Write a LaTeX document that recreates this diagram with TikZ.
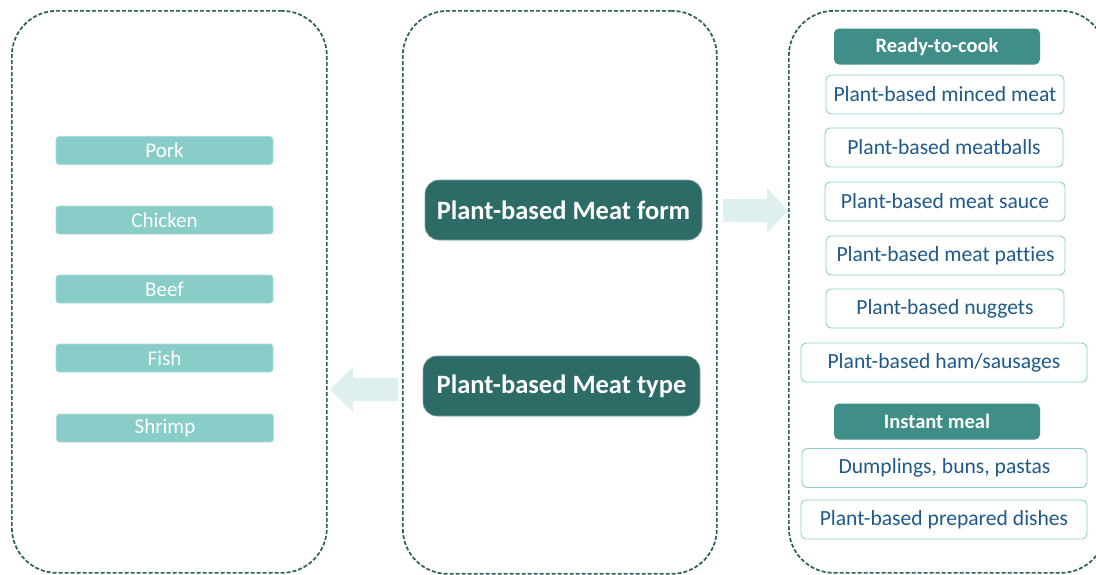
\documentclass[tikz,border=0pt]{standalone}
\usepackage{fontspec}
\setmainfont{Carlito}[Ligatures=NoCommon]
\definecolor{panelline}{HTML}{2D5F5C}
\definecolor{typefill}{HTML}{89CDC9}
\definecolor{darkbox}{HTML}{2D6B67}
\definecolor{headfill}{HTML}{3F8E88}
\definecolor{itemline}{HTML}{8CCFCA}
\definecolor{itemtext}{HTML}{1F5A8A}
\definecolor{arrowfill}{HTML}{DDF0EF}
\tikzset{
  panel/.style={draw=panelline, line width=1.7pt, dash pattern=on 4pt off 2pt,
    rounded corners=45pt, anchor=north west, inner sep=0pt},
  typebox/.style={fill=typefill, draw=typefill!70!white, line width=0.6pt, rounded corners=3pt,
    minimum width=217pt, minimum height=28pt, inner sep=0pt,
    text=white, font=\fontsize{21}{24}\selectfont},
  mainbox/.style={fill=darkbox, draw=darkbox!60!white, line width=0.6pt, rounded corners=14pt,
    minimum width=277pt, minimum height=60pt, inner sep=0pt,
    text=white, font=\fontsize{26.5}{30}\selectfont\bfseries},
  headbox/.style={fill=headfill, rounded corners=5pt,
    minimum width=206pt, minimum height=36pt, inner sep=0pt,
    text=white, font=\fontsize{20.5}{24}\selectfont\bfseries},
  itembox/.style={fill=white, draw=itemline, line width=0.9pt, rounded corners=5pt,
    minimum height=39pt, inner sep=0pt,
    text=itemtext, font=\fontsize{21.6}{25}\selectfont},
}
\begin{document}
\begin{tikzpicture}[x=1pt, y=-1pt]
\clip (0,0) rectangle (1096,574);
\fill[white] (0,0) rectangle (1096,574);

% dashed panels
\node[panel, minimum width=315pt, minimum height=562pt] (leftpanel) at (11,10) {};
\node[panel, minimum width=314pt, minimum height=563pt] (midpanel) at (402,10) {};
\node[panel, minimum width=317pt, minimum height=562pt] (rightpanel) at (788,10) {};

% meat types
\node[typebox] (pork)    at (164.5,150.5) {Pork};
\node[typebox] (chicken) at (164.5,220)   {Chicken};
\node[typebox] (beef)    at (164.5,289)   {Beef};
\node[typebox] (fish)    at (164.5,358)   {Fish};
\node[typebox] (shrimp)  at (165,428)     {Shrimp};

% central boxes
\node[mainbox] (form) at (563.5,210) {Plant-based Meat form};
\node[mainbox] (type) at (561.5,386) {Plant-based Meat type};

% block arrows
\fill[arrowfill] (723,199) -- (767,199) -- (767,188) -- (788,210.5) -- (767,233)
  -- (767,222) -- (723,222) -- cycle;
\fill[arrowfill] (398,378) -- (353,378) -- (353,367) -- (330,389.5) -- (353,412)
  -- (353,401) -- (398,401) -- cycle;

% meat forms
\node[headbox] (ready) at (937,46.5) {Ready-to-cook};
\node[itembox, minimum width=238pt] (minced)   at (945,94.5)  {Plant-based minced meat};
\node[itembox, minimum width=238pt] (balls)    at (944,147.5) {Plant-based meatballs};
\node[itembox, minimum width=240pt] (sauce)    at (945,201.5) {Plant-based meat sauce};
\node[itembox, minimum width=239pt] (patties)  at (945.5,255.5) {Plant-based meat patties};
\node[itembox, minimum width=238pt] (nuggets)  at (945,308.5) {Plant-based nuggets};
\node[itembox, minimum width=286pt] (ham)      at (944,362.5) {Plant-based ham/sausages};
\node[headbox] (instant) at (937,421.5) {Instant meal};
\node[itembox, minimum width=285pt] (dumpling) at (944.5,468) {Dumplings, buns, pastas};
\node[itembox, minimum width=286pt] (dishes)   at (944,519.5) {Plant-based prepared dishes};
\end{tikzpicture}
\end{document}
